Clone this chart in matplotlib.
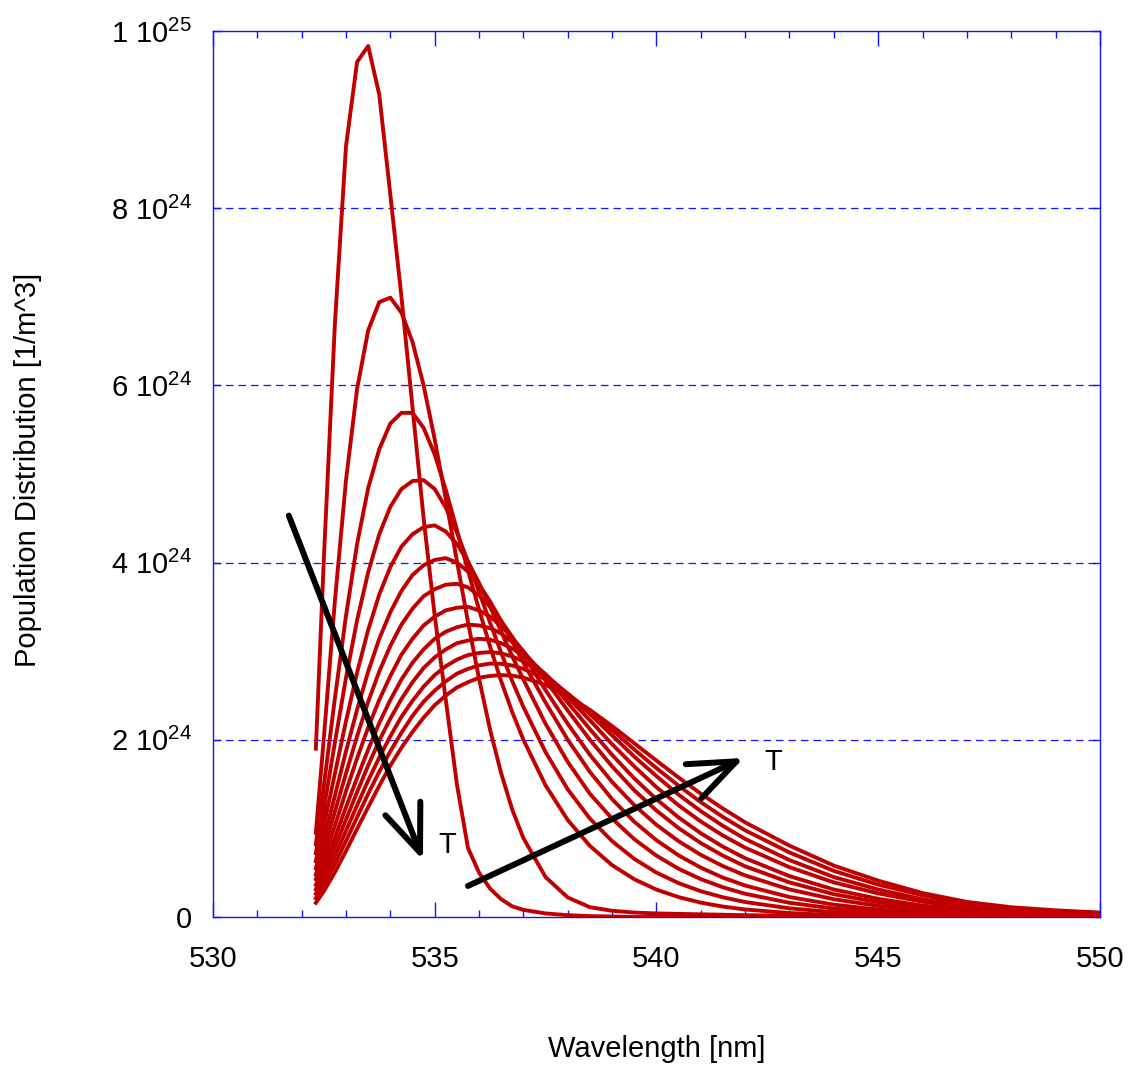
import matplotlib
matplotlib.use("Agg")
import matplotlib.pyplot as plt
import numpy as np

# wavelength grid [nm]
wavelength = [532.32, 532.5, 532.75, 533.0, 533.25, 533.5, 533.75, 534.0, 534.25, 534.5,
              534.75, 535.0, 535.25, 535.5, 535.75, 536.0, 536.25, 536.5, 536.75, 537.0,
              537.5, 538.0, 538.5, 539.0, 539.5, 540.0, 540.5, 541.0, 541.5, 542.0,
              543.0, 544.0, 545.0, 546.0, 547.0, 548.0, 549.0, 550.0]

# population, units of 1e24 1/m^3, lowest T first
pop_t01 = [1.9, 4.04, 6.7, 8.7, 9.65, 9.83, 9.28, 8.15, 7.0, 5.75,
           4.5, 3.4, 2.45, 1.5, 0.78, 0.5, 0.32, 0.2, 0.12, 0.08,
           0.04, 0.02, 0.01, 0.005, 0, 0, 0, 0, 0, 0,
           0, 0, 0, 0, 0, 0, 0, 0]
pop_t02 = [0.95, 2.02, 3.57, 4.93, 5.96, 6.62, 6.94, 6.99, 6.82, 6.49,
           6.0, 5.39, 4.72, 4.02, 3.33, 2.69, 2.11, 1.62, 1.21, 0.89,
           0.45, 0.22, 0.11, 0.07, 0.05, 0.04, 0.035, 0.03, 0.025, 0.02,
           0.015, 0.01, 0.005, 0, 0, 0, 0, 0]
pop_t03 = [0.82, 1.48, 2.47, 3.40, 4.21, 4.84, 5.28, 5.57, 5.69, 5.69,
           5.52, 5.22, 4.82, 4.37, 3.91, 3.47, 3.05, 2.66, 2.31, 2.0,
           1.485, 1.094, 0.802, 0.585, 0.426, 0.309, 0.224, 0.162, 0.117, 0.085,
           0.044, 0.022, 0.011, 0.005, 0.003, 0.002, 0.001, 0.0]
pop_t04 = [0.72, 1.22, 1.97, 2.70, 3.35, 3.89, 4.32, 4.63, 4.83, 4.92,
           4.93, 4.83, 4.62, 4.34, 4.01, 3.67, 3.32, 2.98, 2.66, 2.37,
           1.86, 1.44, 1.11, 0.856, 0.656, 0.501, 0.382, 0.291, 0.222, 0.169,
           0.0975, 0.054, 0.03, 0.016, 0.008, 0.004, 0.002, 0.001]
pop_t05 = [0.63, 1.03, 1.62, 2.21, 2.76, 3.24, 3.64, 3.95, 4.18, 4.32,
           4.40, 4.42, 4.35, 4.21, 4.01, 3.77, 3.50, 3.22, 2.94, 2.68,
           2.18, 1.75, 1.39, 1.11, 0.878, 0.692, 0.544, 0.427, 0.335, 0.262,
           0.16, 0.095, 0.056, 0.031, 0.016, 0.008, 0.005, 0.003]
pop_t06 = [0.55, 0.877, 1.37, 1.87, 2.34, 2.77, 3.14, 3.44, 3.68, 3.86,
           3.97, 4.03, 4.05, 4.00, 3.90, 3.75, 3.56, 3.34, 3.11, 2.87,
           2.42, 2.0, 1.637, 1.33, 1.075, 0.866, 0.695, 0.557, 0.444, 0.355,
           0.225, 0.139, 0.084, 0.048, 0.026, 0.015, 0.008, 0.005]
pop_t07 = [0.48, 0.763, 1.19, 1.62, 2.04, 2.43, 2.77, 3.06, 3.30, 3.48,
           3.62, 3.70, 3.75, 3.76, 3.72, 3.63, 3.50, 3.34, 3.16, 2.96,
           2.56, 2.18, 1.83, 1.524, 1.262, 1.04, 0.855, 0.701, 0.574, 0.469,
           0.311, 0.20, 0.126, 0.077, 0.043, 0.025, 0.016, 0.01]
pop_t08 = [0.427, 0.666, 1.03, 1.42, 1.79, 2.14, 2.45, 2.72, 2.96, 3.14,
           3.29, 3.39, 3.46, 3.49, 3.50, 3.46, 3.39, 3.28, 3.15, 3.00,
           2.67, 2.33, 2.0, 1.70, 1.43, 1.201, 1.003, 0.834, 0.692, 0.572,
           0.390, 0.257, 0.167, 0.103, 0.06, 0.036, 0.023, 0.014]
pop_t09 = [0.362, 0.571, 0.896, 1.24, 1.57, 1.89, 2.19, 2.45, 2.68, 2.87,
           3.02, 3.14, 3.22, 3.27, 3.30, 3.29, 3.26, 3.20, 3.10, 2.99,
           2.72, 2.42, 2.12, 1.83, 1.564, 1.329, 1.123, 0.945, 0.793, 0.663,
           0.461, 0.31, 0.205, 0.128, 0.076, 0.046, 0.029, 0.019]
pop_t10 = [0.312, 0.498, 0.790, 1.10, 1.41, 1.71, 1.99, 2.24, 2.46, 2.65,
           2.81, 2.93, 3.02, 3.09, 3.12, 3.14, 3.13, 3.09, 3.03, 2.95,
           2.74, 2.48, 2.22, 1.95, 1.70, 1.465, 1.26, 1.078, 0.919, 0.782,
           0.562, 0.39, 0.266, 0.173, 0.105, 0.066, 0.043, 0.029]
pop_t11 = [0.262, 0.427, 0.690, 0.973, 1.26, 1.54, 1.80, 2.04, 2.26, 2.44,
           2.60, 2.73, 2.83, 2.905, 2.956, 2.98, 2.99, 2.975, 2.94, 2.885,
           2.73, 2.52, 2.29, 2.05, 1.81, 1.59, 1.38, 1.195, 1.028, 0.881,
           0.642, 0.45, 0.31, 0.20, 0.123, 0.078, 0.051, 0.034]
pop_t12 = [0.212, 0.36, 0.597, 0.858, 1.126, 1.39, 1.64, 1.87, 2.08, 2.27,
           2.43, 2.555, 2.66, 2.746, 2.80, 2.84, 2.86, 2.857, 2.838, 2.80,
           2.685, 2.52, 2.32, 2.11, 1.89, 1.68, 1.481, 1.296, 1.128, 0.978,
           0.728, 0.52, 0.365, 0.245, 0.152, 0.098, 0.065, 0.045]
pop_t13 = [0.16, 0.29, 0.505, 0.745, 0.995, 1.24, 1.48, 1.71, 1.91, 2.09,
           2.25, 2.39, 2.50, 2.59, 2.65, 2.70, 2.72, 2.73, 2.723, 2.702,
           2.62, 2.497, 2.337, 2.155, 1.96, 1.765, 1.574, 1.392, 1.223, 1.068,
           0.805, 0.58, 0.41, 0.27, 0.17, 0.11, 0.075, 0.05]

curves = [pop_t01, pop_t02, pop_t03, pop_t04, pop_t05, pop_t06, pop_t07,
          pop_t08, pop_t09, pop_t10, pop_t11, pop_t12, pop_t13]

y_ticks = [0, 2e24, 4e24, 6e24, 8e24, 1e25]
y_ticklabels = ['0', '2 10$^{24}$', '4 10$^{24}$', '6 10$^{24}$', '8 10$^{24}$', '1 10$^{25}$']
x_ticks = [530, 535, 540, 545, 550]

# arrows (tail, tip) in data units (nm, 1e24)
arrow_cold = ((531.71, 4.53), (534.735, 0.643))
arrow_hot = ((535.75, 0.35), (541.97, 1.795))

plt.rcParams['font.family'] = ['Liberation Sans', 'DejaVu Sans']
plt.rcParams['mathtext.fontset'] = 'custom'
plt.rcParams['mathtext.rm'] = 'Liberation Sans'
plt.rcParams['mathtext.it'] = 'Liberation Sans:italic'
plt.rcParams['mathtext.bf'] = 'Liberation Sans:bold'

blue = '#1414ff'
fig = plt.figure(figsize=(11.28, 10.67), dpi=100)
ax = fig.add_axes([0.1888, 0.1406, 0.7863, 0.8304])

# grid first so the curves sit on top
for yv in y_ticks[1:-1]:
    ax.axhline(yv, color=blue, lw=0.9, ls=(0, (6, 4)), zorder=1)

for c in curves:
    ax.plot(wavelength, np.array(c) * 1e24, color='#c00000', lw=2.8, zorder=3)

ax.set_xlim(530, 550)
ax.set_ylim(0, 1e25)
ax.set_xticks(x_ticks)
ax.set_xticks(np.arange(530, 551, 1), minor=True)
ax.set_yticks(y_ticks)
ax.set_yticklabels(y_ticklabels)

ax.tick_params(axis='x', which='major', direction='in', length=10.8, width=1,
               color=blue, top=True, labelsize=21, pad=20)
ax.tick_params(axis='x', which='minor', direction='in', length=5.2, width=1,
               color=blue, top=True)
ax.tick_params(axis='y', which='major', direction='in', length=5.8, width=1,
               color=blue, right=True, labelsize=21, pad=15)
for s in ax.spines.values():
    s.set_color(blue)
    s.set_linewidth(1.0)

ax.set_xlabel('Wavelength [nm]', fontsize=21)
ax.set_ylabel('Population Distribution [1/m^3]', fontsize=21)
ax.xaxis.set_label_coords(0.5, -0.133)
ax.yaxis.set_label_coords(-0.193, 0.505)

style = '->,head_length=3.4,head_width=1.35'
for tail, tip in (arrow_cold, arrow_hot):
    ax.annotate('', xy=(tip[0], tip[1] * 1e24), xytext=(tail[0], tail[1] * 1e24),
                arrowprops=dict(arrowstyle=style, lw=4.3, color='black',
                                shrinkA=0, shrinkB=0, mutation_scale=10),
                zorder=5)

ax.text(535.28, 0.81e24, 'T', fontsize=21, ha='center', va='center', zorder=6)
ax.text(542.63, 1.75e24, 'T', fontsize=21, ha='center', va='center', zorder=6)

fig.savefig('out.png', dpi=100)
